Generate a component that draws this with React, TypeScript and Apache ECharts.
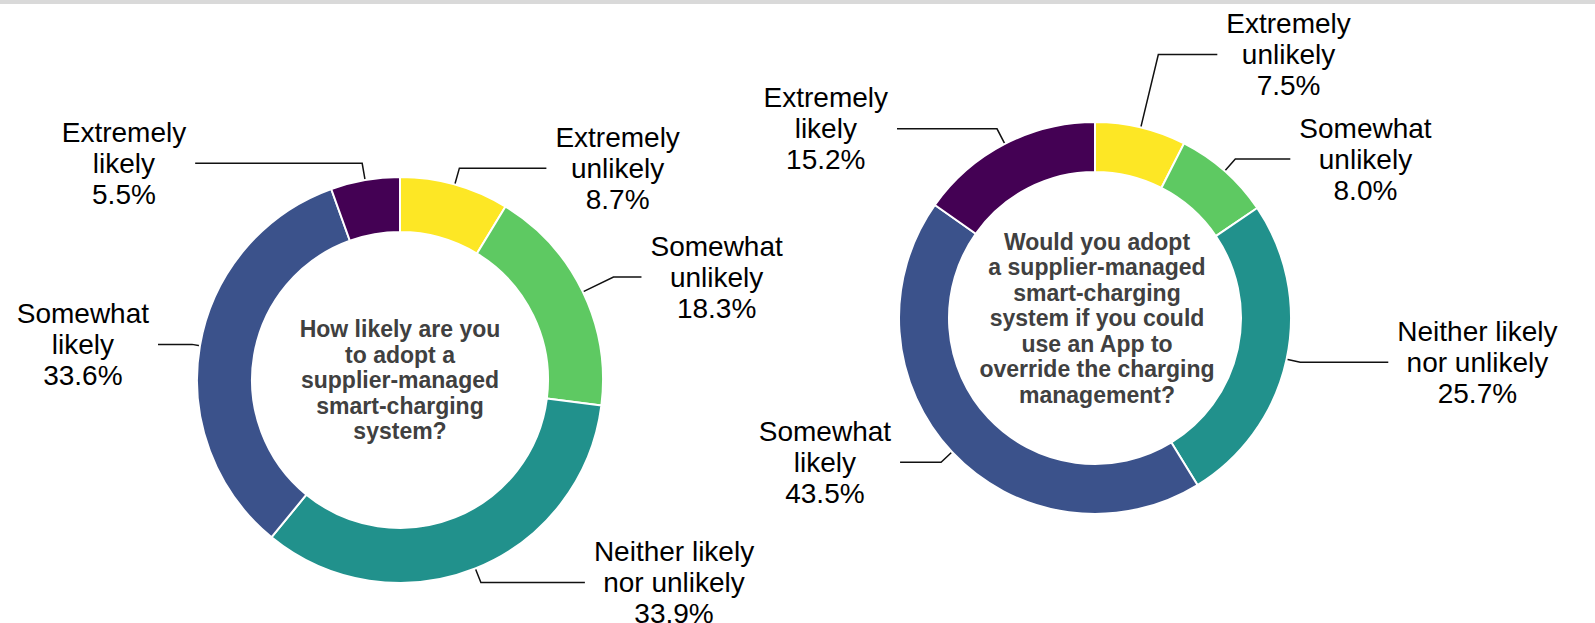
import React, { useEffect, useRef } from 'react';
import * as echarts from 'echarts';

// ---- data ----
const categories = [
  'Extremely unlikely',
  'Somewhat unlikely',
  'Neither likely nor unlikely',
  'Somewhat likely',
  'Extremely likely',
];
const categoryLabels = [
  'Extremely\nunlikely',
  'Somewhat\nunlikely',
  'Neither likely\nnor unlikely',
  'Somewhat\nlikely',
  'Extremely\nlikely',
];
const adoptValues = [8.7, 18.3, 33.9, 33.6, 5.5];
const appOverrideValues = [7.5, 8.0, 25.7, 43.5, 15.2];
const questionLeft = 'How likely are you\nto adopt a\nsupplier-managed\nsmart-charging\nsystem?';
const questionRight =
  'Would you adopt\na supplier-managed\nsmart-charging\nsystem if you could\nuse an App to\noverride the charging\nmanagement?';

// ---- styles ----
const colors = ['#fde725', '#5ec962', '#21918c', '#3b528b', '#440154'];
const leftLeader = [[17, 87], [34, 28], [15, 104], [8, 34], [17, 167]];
const rightLeader = [[75, 59], [16, 55], [14, 88], [15, 41], [17, 100]];
const LEFT_CENTER = [400, 380];
const RIGHT_CENTER = [1095, 318];

function makePie(values: number[], center: number[], radius: number[], leader: number[][]) {
  return {
    type: 'pie',
    center,
    radius,
    startAngle: 90,
    clockwise: true,
    avoidLabelOverlap: false,
    silent: true,
    itemStyle: { borderColor: '#ffffff', borderWidth: 2 },
    label: {
      show: true,
      position: 'outside',
      formatter: (p: any) => categoryLabels[p.dataIndex] + '\n' + Number(p.value).toFixed(1) + '%',
      fontFamily: '"Liberation Sans", Arial, sans-serif',
      fontSize: 28,
      lineHeight: 31,
      color: '#000000',
      distanceToLabelLine: 9,
    },
    labelLine: { show: true, lineStyle: { color: '#111111', width: 1.5 } },
    labelLayout: (params: any) => {
      const r = params.labelRect;
      return {
        x: r.x + r.width / 2,
        y: r.y + r.height / 2,
        align: 'center',
        verticalAlign: 'middle',
        labelLinePoints: params.labelLinePoints,
      };
    },
    data: values.map((v, i) => ({
      name: categories[i],
      value: v,
      itemStyle: { color: colors[i] },
      labelLine: { length: leader[i][0], length2: leader[i][1] },
    })),
  };
}

const centerTextStyle = {
  fontFamily: '"Liberation Sans", Arial, sans-serif',
  fontWeight: 'bold',
  fontSize: 23,
  lineHeight: 25.5,
  fill: '#404040',
  align: 'center',
  verticalAlign: 'middle',
};

export default function App() {
  const ref = useRef<HTMLDivElement>(null);
  useEffect(() => {
    if (!ref.current) return;
    const chart = echarts.init(ref.current, undefined, { renderer: 'svg' });
    chart.setOption({
      animation: false,
      backgroundColor: '#ffffff',
      graphic: [
        {
          type: 'rect',
          silent: true,
          shape: { x: 0, y: 0, width: 1595, height: 4 },
          style: { fill: '#d9d9d9' },
        },
        {
          type: 'text',
          silent: true,
          x: LEFT_CENTER[0],
          y: LEFT_CENTER[1],
          style: { ...centerTextStyle, text: questionLeft },
        },
        {
          type: 'text',
          silent: true,
          x: RIGHT_CENTER[0] + 2,
          y: RIGHT_CENTER[1],
          style: { ...centerTextStyle, text: questionRight },
        },
      ],
      series: [
        makePie(adoptValues, LEFT_CENTER, [148, 203], leftLeader),
        makePie(appOverrideValues, RIGHT_CENTER, [146, 196], rightLeader),
      ],
    });
    return () => chart.dispose();
  }, []);
  return (
    <div
      ref={ref}
      style={{ position: 'absolute', left: 0, top: 0, width: 1595, height: 623 }}
    />
  );
}
